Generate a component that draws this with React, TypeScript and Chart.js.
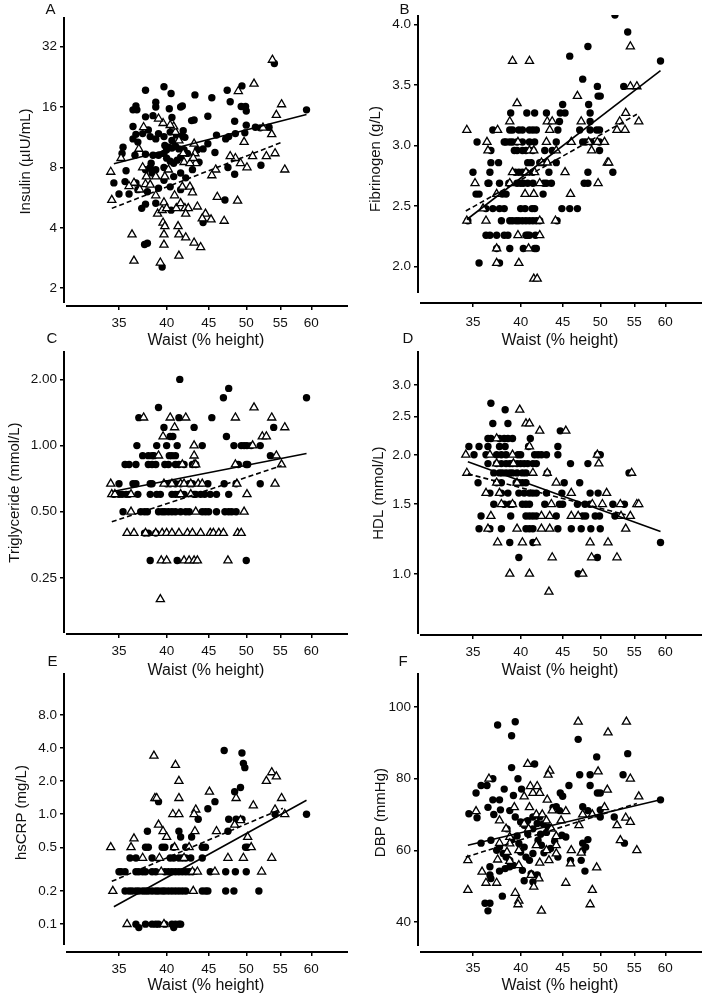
import React, { useEffect, useRef } from 'react';
import { Chart, registerables } from 'chart.js';

Chart.register(...registerables);
Chart.defaults.font.family = "'Liberation Sans', Arial, Helvetica, sans-serif";

// ---------- shared x axis ----------
const waistMin = 30;
const waistMax = 66.5;
const waistTicks = [35, 40, 45, 50, 55, 60];
const waistTickLabels = ['35', '40', '45', '50', '55', '60'];
const waistTitle = 'Waist (% height)';

// ---------- A: Insulin (log) ----------
const insulinTicks = [2, 4, 8, 16, 32];
const insulinTickLabels = ['2', '4', '8', '16', '32'];
const insulinRange = [1.63, 45];
const insulinCircles = [
  [37.7, 19.4], [39.7, 20.2], [40.5, 18.7], [43.3, 18.4], [45.4, 17.8], [47.4, 19.4], [49.4, 20.4], [47.8, 17.0],
  [54.1, 26.4], [59.2, 15.5], [36.7, 16.2], [36.8, 15.5], [36.4, 15.5], [38.8, 16.9], [38.8, 16.0], [40.3, 15.7],
  [41.6, 16.0], [41.8, 16.2], [37.7, 14.3], [38.5, 14.5], [40.6, 14.2], [42.9, 13.7], [43.2, 13.8], [44.9, 14.4],
  [48.4, 13.6], [49.9, 16.1], [49.3, 16.1], [50.0, 15.3], [50.0, 13.0], [52.0, 12.6], [53.3, 12.7], [36.4, 12.8],
  [36.7, 11.7], [36.4, 11.1], [36.9, 10.7], [37.4, 11.8], [38.0, 12.3], [38.2, 11.4], [38.8, 11.1], [39.1, 11.8],
  [39.7, 11.4], [40.4, 12.0], [40.6, 10.9], [41.1, 11.6], [41.6, 11.4], [41.9, 12.2], [42.1, 11.3], [39.8, 10.3],
  [40.2, 10.1], [40.6, 10.0], [41.0, 10.2], [40.0, 9.8], [41.4, 9.9], [42.0, 9.8], [42.4, 9.4], [41.6, 9.0],
  [41.2, 8.7], [40.8, 8.4], [40.4, 8.6], [40.0, 8.9], [39.7, 9.4], [39.1, 9.2], [38.5, 9.2], [37.7, 9.3],
  [36.6, 9.2], [35.4, 10.1], [35.3, 9.4], [38.3, 8.4], [38.8, 7.8], [38.2, 8.0], [37.7, 7.8], [38.4, 7.5],
  [39.7, 8.0], [40.8, 7.2], [41.6, 7.5], [42.2, 7.1], [43.0, 7.8], [43.8, 8.5], [44.3, 9.9], [44.9, 10.5],
  [43.6, 9.8], [45.8, 9.5], [46.0, 11.6], [47.2, 11.1], [47.6, 11.4], [48.5, 11.8], [49.8, 11.9], [48.4, 7.4],
  [47.1, 5.5], [52.1, 8.2], [35.6, 6.8], [34.5, 6.7], [35.0, 5.9], [36.0, 5.9], [36.7, 6.7], [36.9, 6.2],
  [37.3, 5.0], [37.7, 5.25], [37.9, 6.05], [38.8, 5.3], [39.1, 6.3], [39.7, 6.9], [40.4, 6.4], [41.6, 6.2],
  [40.5, 4.9], [44.3, 4.25], [37.6, 3.3], [37.9, 3.35], [39.5, 2.55], [35.7, 7.7], [47.5, 8.0], [51.3, 12.7],
];
const insulinTriangles = [
  [53.8, 27.5], [51.1, 20.9], [48.9, 19.2], [55.2, 16.5], [54.4, 14.6], [53.7, 11.7], [52.4, 12.6], [49.7, 10.7],
  [50.9, 9.1], [52.9, 9.1], [54.2, 9.4], [55.7, 7.8], [50.1, 8.0], [49.2, 8.4], [48.5, 8.9], [47.8, 9.1],
  [45.9, 7.8], [45.4, 7.3], [43.2, 10.5], [43.4, 8.4], [43.3, 9.4], [42.0, 8.5], [41.9, 9.4], [41.4, 10.9],
  [41.0, 12.0], [40.8, 12.8], [40.4, 13.0], [39.6, 13.3], [39.1, 14.0], [37.5, 12.7], [37.0, 9.9], [37.4, 8.0],
  [37.8, 7.2], [37.7, 6.6], [37.1, 6.2], [36.5, 6.7], [36.0, 6.45], [35.2, 8.9], [34.2, 7.6], [34.3, 5.5],
  [36.3, 3.7], [36.5, 2.74], [38.8, 5.8], [38.2, 6.55], [38.8, 7.2], [39.8, 7.2], [40.2, 7.8], [39.0, 4.7],
  [39.5, 4.9], [39.7, 5.35], [40.0, 5.0], [41.1, 5.0], [41.6, 5.3], [42.1, 5.0], [42.5, 5.0], [42.2, 4.7],
  [40.9, 5.8], [41.8, 6.4], [42.7, 6.4], [43.0, 6.0], [43.6, 5.1], [44.6, 4.7], [44.2, 4.45], [45.3, 4.4],
  [47.0, 4.33], [48.8, 5.45], [46.1, 5.7], [39.6, 4.24], [39.8, 4.07], [41.3, 4.07], [39.7, 3.7], [41.4, 3.7],
  [42.2, 3.58], [43.2, 3.37], [44.0, 3.2], [39.7, 3.29], [41.4, 2.9], [39.3, 2.68], [42.7, 8.4], [43.1, 8.9],
];
const insulinFitSolid = [[34.5, 8.35], [59.2, 14.7]];
const insulinFitDashed = [[34.3, 5.0], [55.3, 10.7]];

// ---------- B: Fibrinogen (linear) ----------
const fibrinogenTicks = [2.0, 2.5, 3.0, 3.5, 4.0];
const fibrinogenTickLabels = ['2.0', '2.5', '3.0', '3.5', '4.0'];
const fibrinogenRange = [1.70, 4.08];
// rows: [value, waist values...]
const fibrinogenCircleRows: [number, number[]][] = [
  [4.08, [52.1]], [3.94, [54.0]], [3.82, [48.3]], [3.74, [45.9]], [3.70, [59.2]], [3.55, [47.6]],
  [3.49, [49.6, 53.4]], [3.41, [49.7, 50.0]], [3.34, [45.0, 48.4]],
  [3.27, [38.9, 40.7, 41.6, 43.0, 44.7, 45.3, 48.6]], [3.20, [44.6, 48.6]],
  [3.13, [37.0, 38.8, 39.1, 39.8, 40.2, 41.0, 41.4, 41.8, 44.4, 47.2, 48.6, 49.5, 49.9]],
  [3.03, [35.4, 38.2, 38.4, 38.8, 39.1, 39.6, 40.2, 41.0, 41.6, 44.2, 47.6, 48.0, 48.7, 49.9]],
  [2.96, [36.8, 39.3, 39.6, 40.2, 40.6, 41.4, 42.8, 43.7, 49.9]],
  [2.86, [36.8, 37.6, 40.8, 41.2, 42.2, 42.6, 44.2]],
  [2.78, [35.0, 36.7, 39.4, 39.8, 40.2, 40.6, 41.4, 43.3, 48.3, 51.8]],
  [2.69, [36.5, 36.6, 37.7, 38.7, 39.6, 40.0, 40.3, 40.8, 41.4, 42.7, 43.0, 43.6, 47.8, 48.3]],
  [2.60, [35.3, 35.6, 38.0, 38.4, 42.6]],
  [2.48, [36.3, 37.0, 37.7, 38.2, 40.0, 40.5, 41.3, 41.6, 44.9, 45.9, 46.9]],
  [2.38, [34.5, 37.9, 38.8, 39.1, 39.5, 39.8, 40.2, 40.6, 41.0, 41.4, 41.8, 42.2, 44.3]],
  [2.26, [36.3, 36.7, 37.4, 38.2, 38.6, 40.6, 40.8, 41.0, 41.7]],
  [2.15, [37.4, 38.8, 40.3, 41.6, 41.8]], [2.03, [35.6, 37.7]],
];
const fibrinogenTriangleRows: [number, number[]][] = [
  [3.82, [54.4]], [3.70, [39.1, 41.0]], [3.49, [54.4, 55.4]], [3.41, [46.9]], [3.35, [39.6]], [3.27, [53.7]],
  [3.20, [38.8, 43.1, 43.7, 47.4, 52.8, 55.7]], [3.13, [34.4, 37.5, 43.4, 52.4, 53.6]],
  [3.03, [36.4, 39.7, 43.0, 46.1, 48.4, 49.6, 50.6]], [2.96, [36.5, 41.0, 41.5, 44.2, 48.8]],
  [2.86, [42.4, 43.1, 51.0, 51.2]], [2.78, [39.1, 40.6, 41.6, 45.3]], [2.69, [35.2, 38.8, 42.2, 49.7]],
  [2.60, [37.4, 40.5, 41.5, 46.0]], [2.48, [36.0]], [2.38, [34.4, 36.3, 42.2, 44.1]], [2.26, [39.7, 42.2]],
  [2.15, [37.4, 40.9]], [2.03, [37.4, 39.8]], [1.90, [41.5, 41.9]],
];
const fibrinogenFitSolid = [[34.4, 2.39], [59.2, 3.62]];
const fibrinogenFitDashed = [[34.3, 2.46], [55.4, 3.26]];

// ---------- C: Triglyceride (log) ----------
const triglycerideTicks = [0.25, 0.5, 1.0, 2.0];
const triglycerideTickLabels = ['0.25', '0.50', '1.00', '2.00'];
const triglycerideRange = [0.139, 2.69];
const triglycerideCircleRows: [number, number[]][] = [
  [2.0, [41.5]], [1.82, [47.6]], [1.65, [46.9, 59.2]], [1.49, [39.1]], [1.34, [37.0, 41.4, 45.4]],
  [1.21, [39.7, 43.2, 54.0]], [1.10, [40.4, 40.7, 47.3]],
  [1.0, [36.8, 38.9, 40.0, 41.2, 44.2, 48.3, 49.3, 49.7, 50.1, 50.7, 52.0]],
  [0.90, [37.4, 38.0, 38.4, 38.6, 40.3, 40.6, 41.0, 53.5]],
  [0.82, [35.6, 36.0, 36.7, 38.0, 38.4, 38.8, 39.8, 40.2, 41.0, 41.4, 42.0, 43.0, 43.4, 48.9, 50.0, 50.2]],
  [0.67, [35.0, 36.4, 36.7, 38.2, 38.4, 40.0, 40.4, 41.0, 41.6, 42.6, 43.0, 44.9, 47.0, 48.6, 52.0]],
  [0.60, [34.5, 35.0, 35.3, 35.7, 36.0, 36.9, 38.2, 38.9, 39.3, 40.6, 41.0, 41.4, 42.0, 43.2, 43.4, 44.0, 44.5, 45.2, 46.0, 47.6]],
  [0.50, [35.4, 37.2, 37.6, 37.9, 39.1, 39.5, 39.8, 40.2, 40.6, 41.0, 41.6, 42.2, 42.6, 44.2, 44.6, 45.0, 46.0, 47.1, 47.6, 48.0, 48.6]],
  [0.40, [37.6, 38.0, 38.8]], [0.30, [38.2, 41.2, 50.0]],
];
const triglycerideTriangleRows: [number, number[]][] = [
  [1.49, [51.1]], [1.34, [37.5, 40.4, 42.2, 48.5, 53.7]], [1.21, [40.9, 55.7]], [1.10, [39.6, 52.3, 52.9]],
  [1.0, [43.2, 50.9]], [0.90, [39.1, 43.2, 54.4]], [0.82, [41.8, 43.2, 43.4, 48.5, 55.2]],
  [0.67, [34.2, 39.7, 40.6, 41.6, 42.0, 42.8, 43.7, 44.2, 48.7, 54.2]],
  [0.60, [34.3, 34.6, 36.2, 41.6, 42.8, 50.1]], [0.50, [36.2, 43.4, 49.7]],
  [0.40, [35.8, 36.5, 37.7, 38.8, 39.5, 40.0, 40.6, 41.4, 42.4, 43.0, 44.0, 45.2, 45.6, 46.3, 46.9, 48.8, 49.3]],
  [0.30, [39.4, 40.0, 42.0, 42.6, 43.2, 43.6, 47.5]], [0.20, [39.3]],
];
const triglycerideFitSolid = [[34.5, 0.62], [59.2, 0.92]];
const triglycerideFitDashed = [[34.3, 0.45], [55.2, 0.81]];

// ---------- D: HDL (log) ----------
const hdlTicks = [1.0, 1.5, 2.0, 2.5, 3.0];
const hdlTickLabels = ['1.0', '1.5', '2.0', '2.5', '3.0'];
const hdlRange = [0.747, 3.66];
const hdlCircleRows: [number, number[]][] = [
  [2.7, [36.8]], [2.6, [38.3]], [2.4, [37.0, 38.6]], [2.3, [44.7]],
  [2.2, [36.5, 36.8, 37.7, 38.2, 38.6, 39.1, 41.1]], [2.1, [34.6, 35.6, 36.5, 37.7, 38.3, 40.9, 44.4]],
  [2.0, [35.1, 36.3, 37.4, 37.9, 38.4, 39.7, 40.0, 41.6, 42.0, 42.4, 43.0, 44.4, 49.6, 50.0]],
  [1.9, [36.5, 37.4, 37.9, 38.4, 38.8, 39.1, 39.6, 40.0, 40.4, 40.8, 41.4, 41.8, 46.0, 48.3]],
  [1.8, [37.1, 37.7, 38.0, 38.4, 38.8, 39.1, 39.6, 40.2, 40.6, 43.1, 54.2]],
  [1.7, [35.5, 37.4, 37.9, 39.5, 39.8, 40.2, 40.6, 45.2, 47.2]],
  [1.6, [36.7, 37.9, 38.6, 39.8, 40.4, 41.0, 41.4, 41.8, 43.0, 44.9, 48.6, 49.7]],
  [1.5, [37.1, 38.2, 38.8, 39.1, 40.2, 40.6, 41.0, 42.8, 44.6, 45.0, 46.9, 47.9, 48.6, 51.8, 53.5]],
  [1.4, [35.8, 38.9, 40.6, 41.0, 41.4, 41.8, 44.2, 47.6, 48.0, 49.3, 49.9, 52.1]],
  [1.3, [35.6, 36.7, 37.9, 40.6, 41.0, 41.4, 44.4, 46.1, 47.4, 48.7, 50.0]],
  [1.2, [38.8, 41.4, 59.2]], [1.1, [39.8, 49.6]], [1.0, [47.0]],
];
const hdlTriangleRows: [number, number[]][] = [
  [2.6, [39.9]], [2.4, [40.6, 41.0]], [2.3, [42.2, 45.4]], [2.2, [37.4]], [2.1, [41.0]],
  [2.0, [34.3, 36.7, 39.1, 49.6]], [1.9, [37.4, 39.2, 49.8]], [1.8, [34.4, 41.4, 43.1, 54.6]],
  [1.7, [37.4, 39.6, 44.2]], [1.6, [36.3, 37.7, 46.1, 50.9]],
  [1.5, [37.9, 39.1, 43.6, 48.9, 50.3, 52.9, 55.4, 55.7]], [1.4, [36.8, 42.4, 43.4, 46.1, 47.0, 53.0, 54.4]],
  [1.3, [36.5, 39.6, 42.4, 43.4, 53.7]], [1.2, [37.5, 40.2, 41.8, 48.6, 51.1]], [1.1, [43.7, 48.8, 52.4]],
  [1.0, [38.8, 41.0, 47.6]], [0.9, [43.3]],
];
const hdlFitSolid = [[34.5, 1.92], [59.2, 1.28]];
const hdlFitDashed = [[34.5, 1.79], [53.7, 1.41]];

// ---------- E: hsCRP (log) ----------
const crpTicks = [0.1, 0.2, 0.5, 1.0, 2.0, 4.0, 8.0];
const crpTickLabels = ['0.1', '0.2', '0.5', '1.0', '2.0', '4.0', '8.0'];
const crpRange = [0.0558, 19.2];
const crpCircleRows: [number, number[]][] = [
  [3.8, [47.0]], [3.6, [49.4]], [2.9, [49.6]], [2.65, [49.8]], [1.75, [49.2]], [1.6, [48.4]],
  [1.3, [45.8, 39.1]], [1.12, [44.9]], [1.0, [54.2, 59.2]], [0.9, [43.7, 47.6, 48.6, 49.4]],
  [0.7, [37.9, 41.4, 47.5]], [0.62, [41.6, 42.9]],
  [0.5, [37.7, 38.0, 39.5, 39.8, 40.8, 42.2, 44.2, 44.6, 49.9, 50.2]],
  [0.4, [36.1, 36.7, 38.4, 40.4, 40.8, 41.4, 41.8, 42.2, 42.8, 44.2]],
  [0.3, [35.0, 35.2, 35.6, 36.7, 37.0, 37.4, 37.7, 38.4, 38.8, 39.8, 40.2, 40.6, 41.0, 41.4, 41.8, 42.2, 42.6, 43.0, 45.2, 47.2, 48.5, 50.0]],
  [0.2, [35.6, 36.0, 36.3, 36.7, 37.0, 37.4, 37.7, 38.0, 38.4, 38.8, 39.1, 39.5, 39.8, 40.2, 40.6, 41.0, 41.4, 41.8, 42.2, 44.2, 44.6, 44.9, 47.2, 48.3, 51.8]],
  [0.1, [36.7, 37.7, 38.4, 38.8, 39.1, 39.8, 40.6, 41.0, 41.4, 41.6]], [0.093, [37.0, 40.8]],
];
const crpTriangleRows: [number, number[]][] = [
  [3.4, [38.6]], [2.8, [41.0]], [2.4, [53.7]], [2.2, [54.4]], [2.0, [41.4, 52.9]], [1.6, [45.1]],
  [1.4, [38.7, 38.9, 41.4, 48.6, 55.2]], [1.2, [51.0]], [1.1, [43.4, 54.2]], [1.0, [40.7, 41.4, 43.2, 55.7]],
  [0.88, [49.2]], [0.8, [39.1, 48.4]], [0.7, [39.6, 43.3, 46.0]], [0.62, [40.0, 50.2]], [0.6, [36.5]],
  [0.5, [34.2, 36.2, 40.9, 42.6, 50.7]], [0.4, [37.4, 39.2, 42.0, 47.5, 49.6, 53.7]],
  [0.3, [39.4, 43.0, 43.6, 45.8, 52.2]], [0.2, [34.4, 43.1]], [0.1, [35.8, 39.7]],
];
const crpFitSolid = [[34.5, 0.144], [59.2, 1.34]];
const crpFitDashed = [[34.3, 0.245], [55.4, 1.13]];

// ---------- F: DBP (linear) ----------
const dbpTicks = [40, 60, 80, 100];
const dbpTickLabels = ['40', '60', '80', '100'];
const dbpRange = [31.6, 109.5];
const dbpCircles = [
  [37.5, 95.0], [39.4, 95.9], [39.0, 92.0], [47.0, 91.0], [49.5, 86.1], [54.0, 87.0], [39.0, 83.1], [41.6, 84.1],
  [39.7, 80.0], [37.0, 80.0], [47.2, 81.1], [48.6, 81.1], [53.3, 81.1], [35.8, 78.1], [36.4, 78.1], [38.2, 77.1],
  [40.1, 77.1], [45.8, 78.1], [48.6, 78.1], [35.3, 76.0], [44.7, 76.0], [45.0, 75.1], [49.6, 76.0], [50.0, 76.0],
  [34.6, 70.2], [35.4, 69.1], [36.5, 72.0], [37.0, 74.1], [37.7, 74.1], [37.8, 71.3], [37.1, 70.0], [39.2, 75.3],
  [38.8, 71.1], [39.4, 69.3], [40.0, 67.9], [40.4, 67.0], [40.8, 68.3], [41.4, 69.3], [42.2, 69.3], [42.6, 67.4],
  [43.2, 66.5], [43.8, 72.0], [44.2, 72.2], [44.6, 71.1], [47.6, 72.2], [48.3, 71.1], [50.0, 71.3], [50.0, 69.3],
  [52.0, 69.3], [59.2, 74.1], [35.8, 62.0], [36.8, 62.8], [37.4, 60.0], [37.7, 60.9], [38.1, 59.1], [38.4, 58.1],
  [38.8, 57.2], [39.2, 55.8], [38.8, 55.4], [38.3, 54.9], [37.7, 54.2], [36.7, 55.4], [36.7, 53.1], [36.8, 52.1],
  [39.8, 61.9], [40.4, 60.9], [40.0, 59.5], [40.6, 58.1], [41.0, 57.2], [41.4, 59.1], [40.8, 64.6], [41.4, 66.0],
  [42.0, 62.8], [42.4, 61.4], [42.7, 59.3], [40.2, 54.4], [40.4, 51.5], [41.4, 51.2], [41.2, 53.5], [41.9, 53.1],
  [44.4, 58.1], [44.9, 64.2], [45.4, 63.7], [46.0, 57.2], [47.6, 62.0], [48.0, 60.9], [48.3, 63.0], [47.6, 59.8],
  [47.4, 57.2], [47.9, 54.2], [53.5, 62.0], [36.2, 45.2], [36.7, 45.2], [36.5, 43.1], [38.0, 47.2], [41.9, 67.5],
  [43.0, 65.0], [38.5, 66.0], [39.6, 64.0], [43.5, 60.5], [44.0, 62.5], [39.0, 63.0], [42.3, 64.5],
];
const dbpTriangles = [
  [47.0, 95.9], [53.8, 95.9], [51.1, 92.9], [40.8, 84.1], [43.4, 82.2], [43.2, 81.1], [36.6, 80.0], [49.7, 82.0],
  [54.4, 80.0], [41.1, 77.9], [41.9, 77.9], [41.4, 76.0], [42.2, 76.0], [40.4, 75.0], [51.0, 76.9], [43.1, 74.1],
  [55.7, 75.0], [35.3, 70.9], [39.3, 72.0], [41.0, 72.0], [41.8, 70.0], [42.5, 70.0], [43.7, 71.1], [45.4, 70.9],
  [50.6, 72.0], [48.9, 70.0], [44.2, 63.9], [47.6, 70.0], [47.1, 67.0], [37.7, 68.3], [38.4, 66.0], [38.8, 63.7],
  [40.4, 67.4], [40.9, 66.0], [43.0, 68.3], [43.6, 66.0], [44.8, 68.3], [53.7, 69.1], [54.4, 67.9], [52.4, 67.0],
  [52.9, 62.8], [55.4, 60.0], [37.7, 62.0], [38.5, 59.5], [38.8, 61.9], [39.8, 60.0], [41.8, 61.4], [43.0, 60.0],
  [44.2, 61.4], [46.1, 60.0], [34.5, 57.2], [35.9, 54.0], [36.3, 50.9], [37.4, 50.9], [37.5, 57.4], [38.8, 57.0],
  [39.8, 55.8], [42.2, 56.5], [43.3, 57.2], [44.2, 59.1], [46.0, 56.3], [49.5, 55.2], [47.4, 59.3], [34.5, 48.9],
  [39.4, 48.1], [39.8, 45.9], [39.7, 44.9], [41.5, 49.8], [42.1, 52.1], [45.4, 50.9], [48.9, 48.9], [48.6, 44.9],
  [42.4, 43.1], [41.2, 53.1],
];
const dbpFitSolid = [[34.5, 61.4], [59.2, 74.1]];
const dbpFitDashed = [[34.3, 58.1], [55.4, 73.1]];

// ---------- helpers ----------
type Pt = { x: number; y: number };
const fromPairs = (p: number[][]): Pt[] => p.map(([x, y]) => ({ x, y }));
const fromRows = (rows: [number, number[]][]): Pt[] =>
  rows.flatMap(([y, xs]) => xs.map((x) => ({ x, y })));

interface PanelSpec {
  letter: string;
  yTitle: string;
  yType: 'logarithmic' | 'linear';
  yRange: number[];
  yTicks: number[];
  yTickLabels: string[];
  circles: Pt[];
  triangles: Pt[];
  solid: Pt[];
  dashed: Pt[];
  left: number;
  top: number;
  width: number;
  height: number;
  padTop: number;
  xScaleH: number;
  yTitlePad: number;
  xTickPad: number;
  yGap: number;
  letterX: number;
  letterY: number;
}

const panels: PanelSpec[] = [
  {
    letter: 'A', yTitle: 'Insulin (µIU/mL)', yType: 'logarithmic', yRange: insulinRange,
    yTicks: insulinTicks, yTickLabels: insulinTickLabels,
    circles: fromPairs(insulinCircles), triangles: fromPairs(insulinTriangles),
    solid: fromPairs(insulinFitSolid), dashed: fromPairs(insulinFitDashed),
    left: 0, top: 0, width: 354, height: 350, padTop: 17, xScaleH: 44, yTitlePad: 17, xTickPad: 5, yGap: 3,
    letterX: 51, letterY: 8,
  },
  {
    letter: 'B', yTitle: 'Fibrinogen (g/L)', yType: 'linear', yRange: fibrinogenRange,
    yTicks: fibrinogenTicks, yTickLabels: fibrinogenTickLabels,
    circles: fromRows(fibrinogenCircleRows), triangles: fromRows(fibrinogenTriangleRows),
    solid: fromPairs(fibrinogenFitSolid), dashed: fromPairs(fibrinogenFitDashed),
    left: 354, top: 0, width: 354, height: 350, padTop: 15, xScaleH: 47, yTitlePad: 13, xTickPad: 7, yGap: 10,
    letterX: 405, letterY: 8,
  },
  {
    letter: 'C', yTitle: 'Triglyceride (mmol/L)', yType: 'logarithmic', yRange: triglycerideRange,
    yTicks: triglycerideTicks, yTickLabels: triglycerideTickLabels,
    circles: fromRows(triglycerideCircleRows), triangles: fromRows(triglycerideTriangleRows),
    solid: fromPairs(triglycerideFitSolid), dashed: fromPairs(triglycerideFitDashed),
    left: 0, top: 340, width: 354, height: 340, padTop: 10, xScaleH: 46, yTitlePad: 6, xTickPad: 5, yGap: 1,
    letterX: 52, letterY: 337,
  },
  {
    letter: 'D', yTitle: 'HDL (mmol/L)', yType: 'logarithmic', yRange: hdlRange,
    yTicks: hdlTicks, yTickLabels: hdlTickLabels,
    circles: fromRows(hdlCircleRows), triangles: fromRows(hdlTriangleRows),
    solid: fromPairs(hdlFitSolid), dashed: fromPairs(hdlFitDashed),
    left: 354, top: 340, width: 354, height: 340, padTop: 10, xScaleH: 45, yTitlePad: 16, xTickPad: 5, yGap: 1,
    letterX: 408, letterY: 337,
  },
  {
    letter: 'E', yTitle: 'hsCRP (mg/L)', yType: 'logarithmic', yRange: crpRange,
    yTicks: crpTicks, yTickLabels: crpTickLabels,
    circles: fromRows(crpCircleRows), triangles: fromRows(crpTriangleRows),
    solid: fromPairs(crpFitSolid), dashed: fromPairs(crpFitDashed),
    left: 0, top: 662, width: 354, height: 333, padTop: 10, xScaleH: 43, yTitlePad: 13, xTickPad: 5, yGap: 7,
    letterX: 53, letterY: 660,
  },
  {
    letter: 'F', yTitle: 'DBP (mmHg)', yType: 'linear', yRange: dbpRange,
    yTicks: dbpTicks, yTickLabels: dbpTickLabels,
    circles: fromPairs(dbpCircles), triangles: fromPairs(dbpTriangles),
    solid: fromPairs(dbpFitSolid), dashed: fromPairs(dbpFitDashed),
    left: 354, top: 662, width: 354, height: 333, padTop: 10, xScaleH: 43, yTitlePad: 18, xTickPad: 4, yGap: 6,
    letterX: 404, letterY: 660,
  },
];

const axisLinesPlugin = {
  id: 'axisLines',
  afterDraw(chart: any, _args: any, opts: any) {
    const { ctx, chartArea: a } = chart;
    ctx.save();
    ctx.strokeStyle = '#000';
    ctx.lineWidth = 2;
    ctx.beginPath();
    ctx.moveTo(a.left, a.top);
    ctx.lineTo(a.left, a.bottom - (opts.yGap ?? 3));
    ctx.moveTo(a.left + (opts.xGap ?? 2), a.bottom);
    ctx.lineTo(a.right, a.bottom);
    ctx.stroke();
    ctx.restore();
  },
};

const tickLabel = (values: number[], labels: string[]) => (v: any) => {
  const i = values.findIndex((t) => Math.abs(t - Number(v)) < 1e-9);
  return i >= 0 ? labels[i] : '';
};

function Panel({ spec }: { spec: PanelSpec }) {
  const ref = useRef<HTMLCanvasElement>(null);
  useEffect(() => {
    if (!ref.current) return;
    const tickFont = { size: 13.5 };
    const chart = new Chart(ref.current, {
      type: 'scatter',
      data: {
        datasets: [
          {
            label: 'Fit (filled)', data: spec.solid, showLine: true, borderColor: '#000', borderWidth: 1.6,
            pointRadius: 0, fill: false, order: 0,
          } as any,
          {
            label: 'Fit (open)', data: spec.dashed, showLine: true, borderColor: '#000', borderWidth: 1.6,
            borderDash: [5, 3], pointRadius: 0, fill: false, order: 0,
          } as any,
          {
            label: 'Open triangles', data: spec.triangles, pointStyle: 'triangle', pointRadius: 4.7,
            backgroundColor: '#fff', borderColor: '#000', borderWidth: 1.3, order: 1,
          } as any,
          {
            label: 'Filled circles', data: spec.circles, pointStyle: 'circle', pointRadius: 3.7,
            backgroundColor: '#000', borderColor: '#000', borderWidth: 0, order: 2,
          } as any,
        ],
      },
      options: {
        animation: false,
        responsive: false,
        maintainAspectRatio: false,
        events: [],
        layout: { padding: { top: spec.padTop, right: 2, left: 0, bottom: 0 } },
        plugins: {
          legend: { display: false },
          tooltip: { enabled: false },
          axisLines: { yGap: spec.yGap, xGap: 2 },
        } as any,
        scales: {
          x: {
            type: 'logarithmic',
            position: 'bottom',
            min: waistMin,
            max: waistMax,
            afterBuildTicks: (s: any) => { s.ticks = waistTicks.map((v) => ({ value: v })); },
            afterFit: (s: any) => { s.height = spec.xScaleH; },
            ticks: {
              autoSkip: false, maxRotation: 0, minRotation: 0, color: '#111', font: tickFont,
              padding: spec.xTickPad, callback: tickLabel(waistTicks, waistTickLabels),
            },
            grid: { display: true, drawOnChartArea: false, drawTicks: true, tickLength: 4, color: '#000', lineWidth: 1.5 },
            border: { display: false },
            title: { display: true, text: waistTitle, color: '#111', font: { size: 16 }, padding: { top: 0, bottom: 0 } },
          } as any,
          y: {
            type: spec.yType,
            position: 'left',
            min: spec.yRange[0],
            max: spec.yRange[1],
            afterBuildTicks: (s: any) => { s.ticks = spec.yTicks.map((v) => ({ value: v })); },
            afterFit: (s: any) => { s.width = 64; },
            ticks: {
              autoSkip: false, color: '#111', font: tickFont, padding: 3,
              callback: tickLabel(spec.yTicks, spec.yTickLabels),
            },
            grid: { display: true, drawOnChartArea: false, drawTicks: true, tickLength: 4, color: '#000', lineWidth: 1.5 },
            border: { display: false },
            title: { display: true, text: spec.yTitle, color: '#111', font: { size: 15 }, padding: { top: spec.yTitlePad, bottom: 0 } },
          } as any,
        },
      },
      plugins: [axisLinesPlugin],
    });
    return () => chart.destroy();
  }, [spec]);
  return (
    <canvas
      ref={ref}
      width={spec.width}
      height={spec.height}
      style={{ position: 'absolute', left: spec.left, top: spec.top, width: spec.width, height: spec.height }}
    />
  );
}

export default function App() {
  return (
    <div
      style={{
        position: 'absolute', left: 0, top: 0, width: 708, height: 995, background: '#fff', overflow: 'hidden',
        fontFamily: "'Liberation Sans', Arial, Helvetica, sans-serif",
      }}
    >
      {panels.map((p) => (
        <Panel key={p.letter} spec={p} />
      ))}
      {panels.map((p) => (
        <div
          key={'l' + p.letter}
          style={{
            position: 'absolute', left: p.letterX - 5.5, top: p.letterY - 7.4, fontSize: 15, lineHeight: '15px',
            color: '#111',
          }}
        >
          {p.letter}
        </div>
      ))}
    </div>
  );
}
